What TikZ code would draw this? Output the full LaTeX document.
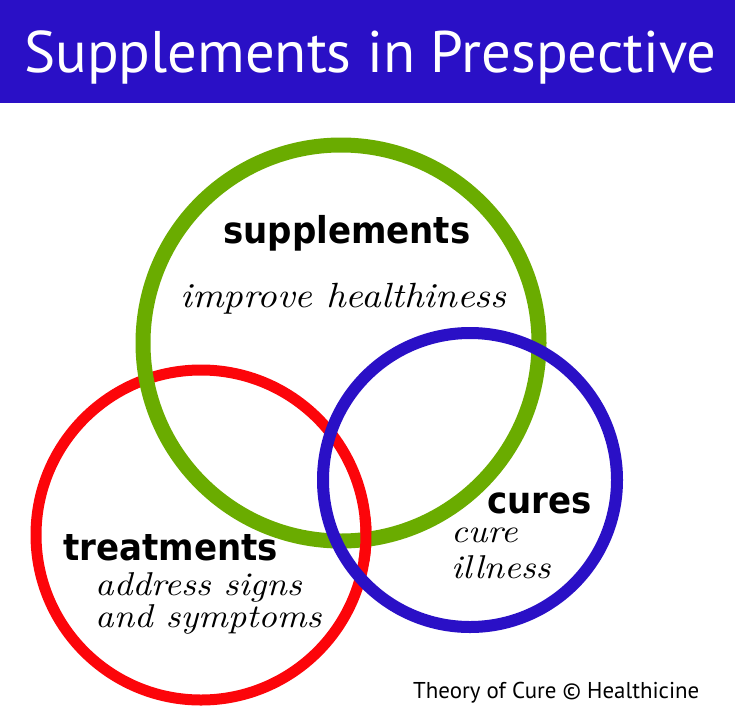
\documentclass[tikz,border=0pt]{standalone}
\usepackage{fontspec}
\usetikzlibrary{positioning}
\newfontfamily\titlefont{PT Sans}
\newfontfamily\labelfont[FakeStretch=0.92]{DejaVu Sans Bold}
\newfontfamily\notefont[FakeStretch=1.1]{lmroman10-italic.otf}
\definecolor{titleblue}{RGB}{42,16,198}
\definecolor{suppgreen}{RGB}{106,172,0}
\definecolor{treatred}{RGB}{252,5,10}
\definecolor{cureblue}{RGB}{42,16,198}

\begin{document}
\begin{tikzpicture}[x=1pt, y=-1pt,
  ring/.style={circle, draw, inner sep=0pt, outer sep=0pt},
  lbl/.style={anchor=base west, inner sep=0pt, font=\labelfont\fontsize{37}{40}\selectfont},
  note/.style={anchor=base west, inner sep=0pt, font=\notefont\fontsize{33}{36}\selectfont}
]
  \useasboundingbox (0,0) rectangle (735,720);
  \node[fill=titleblue, minimum width=735pt, minimum height=103pt, inner sep=0pt, anchor=north west] (bar) at (0,0) {};
  \node[anchor=base west, inner sep=0pt, text=white, font=\titlefont\fontsize{58.7}{60}\selectfont] (title) at (24,72) {Supplements in Prespective};

  % rings: red, green, then red again where it lies over green, blue on top
  \node[ring, draw=treatred, line width=11pt, minimum size=330pt] (treat) at (201,535) {};
  \node[ring, draw=suppgreen, line width=15pt, minimum size=396pt] (supp) at (341,343) {};
  \draw[treatred, line width=11pt] (treat.-9) arc[start angle=-9, end angle=6, radius=165pt];
  \node[ring, draw=cureblue, line width=12pt, minimum size=294pt] (cure) at (470,480) {};

  \node[lbl] (supplbl) at (223,243) {supplements};
  \node[note, font=\notefont\fontsize{35}{36}\selectfont] (suppnote) at (180,307) {improve healthiness};
  \node[lbl] (treatlbl) at (63,560) {treatments};
  \node[note] (treatnote1) at (95,595) {address signs};
  \node[note] (treatnote2) at (95,627) {and symptoms};
  \node[lbl] (curelbl) at (487,513) {cures};
  \node[note] (curenote1) at (451,542) {cure};
  \node[note] (curenote2) at (451,578) {illness};
  \node[anchor=base west, inner sep=0pt, font=\titlefont\fontsize{22.9}{24}\selectfont] (credit) at (413,698) {Theory of Cure © Healthicine};
\end{tikzpicture}
\end{document}
